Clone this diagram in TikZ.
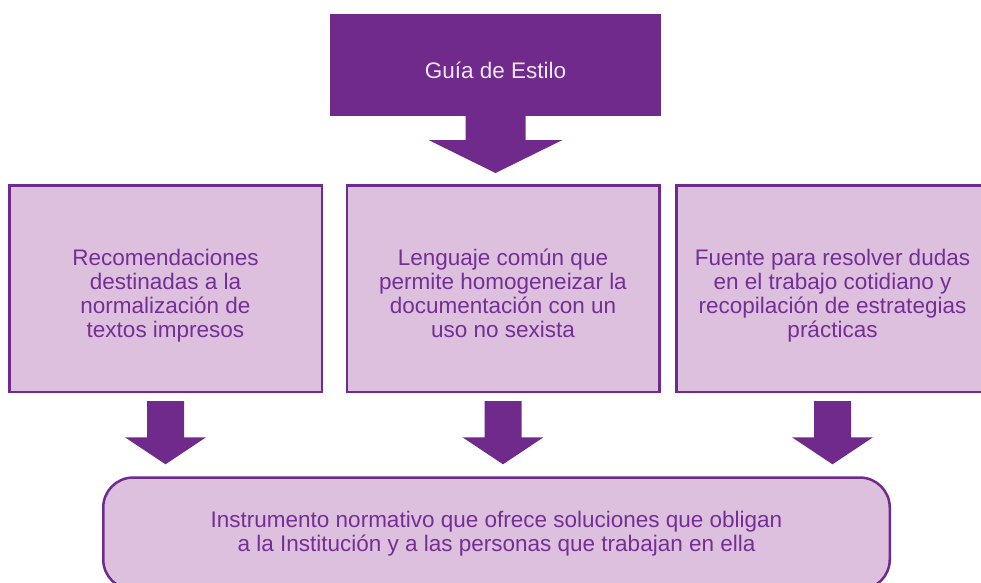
\documentclass[tikz,border=0pt]{standalone}
\usepackage{fontspec}
\setmainfont{Liberation Sans}
\usepackage{tikz}
\usetikzlibrary{calc}
\definecolor{guiapurple}{RGB}{111,42,140}
\definecolor{guialilac}{RGB}{221,192,221}
\definecolor{guiatext}{RGB}{116,46,150}
\definecolor{guiapale}{RGB}{242,230,246}
\newcommand{\fatarrow}[7]{ \fill[guiapurple] let \p1=(#1.south), \p2=(#2.north) in (\x1-#5,\y1-#3) -- (\x1+#5,\y1-#3) -- (\x1+#5,\y2+#4+#7) -- (\x1+#6,\y2+#4+#7) -- (\x1,\y2+#4) -- (\x1-#6,\y2+#4+#7) -- (\x1-#5,\y2+#4+#7) -- cycle;}
\tikzset{
  guiafont/.style={font=\fontsize{22.5}{24}\selectfont},
  title/.style={rectangle, fill=guiapurple, text=guiapale, guiafont, text height=26pt, text depth=0pt, minimum width=331pt, minimum height=102pt},
  box/.style={rectangle, draw=guiapurple, line width=2.5pt, fill=guialilac, text=guiatext, align=center, guiafont, text height=97pt, text depth=0pt, minimum width=312.5pt, minimum height=206.5pt},
  final/.style={rectangle, rounded corners=30pt, draw=guiapurple, line width=2.5pt, fill=guialilac, text=guiatext, align=center, guiafont, minimum width=786.5pt, minimum height=112pt}
}
\begin{document}
\begin{tikzpicture}[x=1pt,y=-1pt]
\useasboundingbox (0,0) rectangle (981,582);
\clip (0,0) rectangle (981,582);
% title
\node[title] (guia) at (495.5,65) {Guía de Estilo};
% row of three boxes
\node[box] (recom) at (165.5,288.5) {Recomendaciones\\destinadas a la\\normalización de\\textos impresos};
\node[box] (comun) at (503,288.5) {Lenguaje común que\\permite homogeneizar la\\documentación con un\\uso no sexista};
\node[box] (fuente) at (832.5,288.5) {Fuente para resolver dudas\\en el trabajo cotidiano y\\recopilación de estrategias\\prácticas};
% bottom box
\node[final] (instr) at (496.5,533.5) {Instrumento normativo que ofrece soluciones que obligan\\a la Institución y a las personas que trabajan en ella};
% arrows
\fatarrow{guia}{comun}{0pt}{11pt}{30pt}{67pt}{33pt}
\fatarrow{recom}{instr}{8pt}{12pt}{18.5pt}{40.5pt}{27pt}
\fatarrow{comun}{instr}{8pt}{12pt}{18.5pt}{40.5pt}{27pt}
\fatarrow{fuente}{instr}{8pt}{12pt}{18.5pt}{40.5pt}{27pt}
\end{tikzpicture}
\end{document}
